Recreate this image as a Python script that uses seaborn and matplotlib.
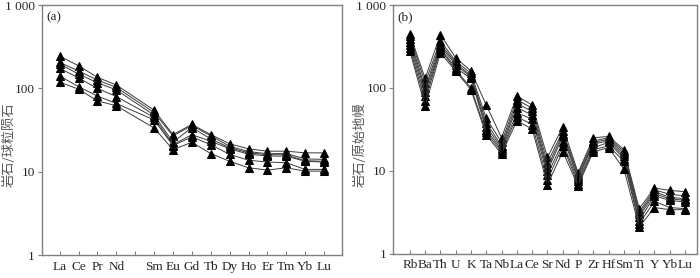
import numpy as np
import pandas as pd
import matplotlib
matplotlib.use("Agg")
import matplotlib.pyplot as plt
import seaborn as sns
from matplotlib.ticker import NullLocator

# (a) REE chondrite-normalised
ree_labels = ["La", "Ce", "Pr", "Nd", "", "Sm", "Eu", "Gd", "Tb", "Dy", "Ho", "Er", "Tm", "Yb", "Lu"]
ree_elements = ["La", "Ce", "Pr", "Nd", "Sm", "Eu", "Gd", "Tb", "Dy", "Ho", "Er", "Tm", "Yb", "Lu"]
ree_s1 = [244, 187, 136, 110, 55, 28, 37, 28, 21.7, 18.9, 17.7, 17.7, 16.9, 16.9]
ree_s2 = [205, 162, 126, 103, 51.5, 27, 36, 27, 20.3, 17.5, 16.5, 16.6, 14.3, 14.1]
ree_s3 = [196, 149, 117, 96, 48, 22.7, 34, 24.8, 19.5, 16.9, 16.1, 16.0, 13.6, 13.4]
ree_s4 = [174, 134, 100, 80, 45, 21.2, 27.9, 23.3, 18.9, 16.3, 15.5, 15.4, 13.4, 13.1]
ree_s5 = [141, 105, 81, 66, 42, 20.7, 26.2, 21.2, 16.2, 13.8, 13.1, 12.9, 10.7, 10.7]
ree_s6 = [119, 98, 71, 62, 33.6, 18.5, 22.6, 16.6, 13.4, 11.2, 10.5, 11.2, 10.2, 10.2]

# (b) trace elements primitive-mantle-normalised
tr_elements = ["Rb", "Ba", "Th", "U", "K", "Ta", "Nb", "La", "Ce", "Sr", "Nd", "P", "Zr", "Hf", "Sm", "Ti", "Y", "Yb", "Lu"]
tr_s1 = [450, 130, 440, 230, 160, 62, 25, 80, 62, 14.5, 34, 9.5, 25, 26, 18, 3.5, 6.2, 5.8, 5.6]
tr_s2 = [420, 115, 370, 210, 150, 43, 22, 72, 57, 12.5, 30, 9.0, 23, 25, 17, 3.2, 5.9, 5.2, 5.0]
tr_s3 = [390, 100, 340, 200, 140, 38, 20, 65, 52, 11, 28, 8.5, 22, 24, 16, 3.0, 5.6, 4.8, 4.6]
tr_s4 = [360, 90, 320, 190, 135, 34, 19, 58, 47, 10, 26, 8.0, 21, 23, 15, 2.8, 5.3, 4.6, 4.4]
tr_s5 = [330, 80, 300, 175, 130, 31, 18, 50, 42, 9, 22, 7.5, 19, 22, 14, 2.5, 5.0, 4.4, 4.2]
tr_s6 = [300, 70, 290, 165, 100, 29, 17, 45, 36, 7.8, 20, 7.0, 18, 20, 13, 2.3, 4.3, 3.6, 3.5]
tr_s7 = [280, 60, 265, 160, 95, 27, 16, 40, 32, 6.8, 17, 6.6, 17, 19, 10.5, 2.1, 3.6, 3.4, 3.4]


def long_df(elements, positions, samples):
    rows = []
    for i, vals in enumerate(samples):
        for el, p, v in zip(elements, positions, vals):
            rows.append({"sample": f"s{i}", "element": el, "pos": p, "value": v})
    return pd.DataFrame(rows)


ree_pos = [ree_labels.index(e) for e in ree_elements]
df_a = long_df(ree_elements, ree_pos, [ree_s1, ree_s2, ree_s3, ree_s4, ree_s5, ree_s6])
df_b = long_df(tr_elements, list(range(len(tr_elements))),
               [tr_s1, tr_s2, tr_s3, tr_s4, tr_s5, tr_s6, tr_s7])

sns.set_style("ticks")
plt.rcParams["font.family"] = ["Liberation Serif", "Noto Sans CJK SC"]

fig = plt.figure(figsize=(7, 2.78), dpi=100)
ax1 = fig.add_axes([41.7 / 700, 1 - 255.3 / 278, 300.3 / 700, 250.3 / 278])
ax2 = fig.add_axes([393.3 / 700, 1 - 253.7 / 278, 303.4 / 700, 248.7 / 278])

spine_c = "#808080"
for ax, df, labels, xlim, ylab, tag, lx in [
    (ax1, df_a, ree_labels, (-0.95, 14.95), "岩石/球粒陨石", "(a)", 9),
    (ax2, df_b, tr_elements, (-1.08, 18.76), "岩石/原始地幔", "(b)", 360),
]:
    n = df["sample"].nunique()
    sns.lineplot(data=df, x="pos", y="value", hue="sample",
                 palette=["#3a3a3a"] * n, marker="^", markersize=6,
                 markerfacecolor="black", markeredgecolor="black",
                 linewidth=0.7, sort=False, legend=False, ax=ax)
    ax.set_yscale("log")
    ax.set_ylim(1, 1000)
    ax.set_xlim(*xlim)
    ax.set_yticks([1, 10, 100, 1000])
    ax.set_yticklabels(["1", "10", "100", "1 000"])
    ax.yaxis.set_minor_locator(NullLocator())
    ax.set_xticks(range(len(labels)))
    ax.set_xticklabels(labels)
    ax.tick_params(axis="x", direction="in", length=3, color=spine_c, labelsize=9.5, pad=4)
    ax.tick_params(axis="y", direction="out", length=3, color=spine_c, labelsize=9.5, pad=2)
    for s in ax.spines.values():
        s.set_color(spine_c)
        s.set_linewidth(1.0)
    ax.set_xlabel("")
    ax.set_ylabel("")
    fig.text(lx / 700, 1 - 145 / 278, ylab, rotation=90, ha="center", va="center",
             fontsize=9.5, color="#555555", family=["Noto Sans CJK SC"])
    ax.text(0.015, 0.975, tag, transform=ax.transAxes, ha="left", va="top", fontsize=9.5)

fig.savefig("out.png", dpi=100)
